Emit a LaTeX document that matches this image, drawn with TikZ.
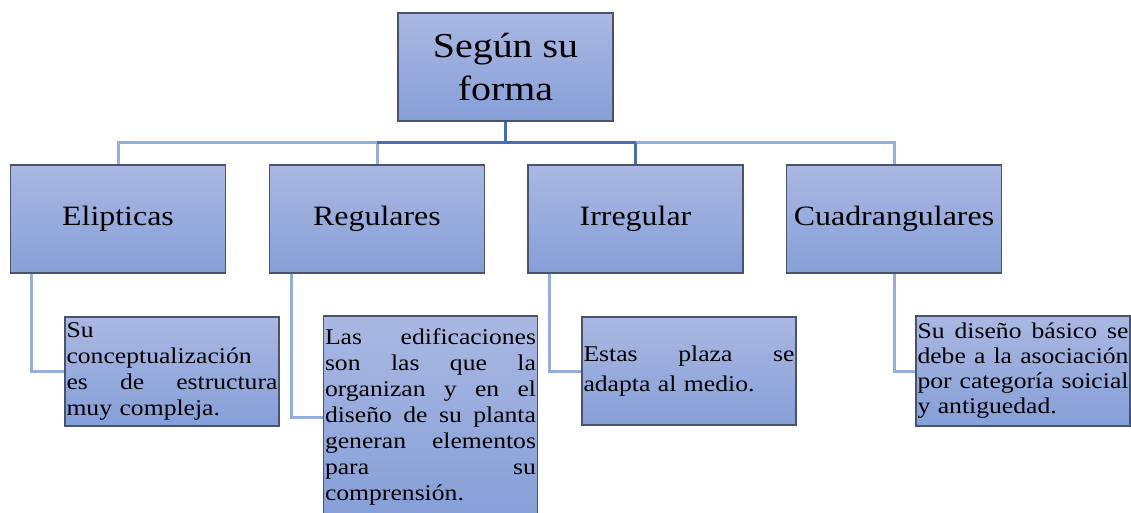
\documentclass[tikz,border=0pt]{standalone}
\usepackage{fontspec}
\setmainfont{Liberation Serif}[FakeStretch=1.14]
\definecolor{boxtop}{RGB}{170,184,226}
\definecolor{boxbot}{RGB}{134,159,216}
\definecolor{boxline}{RGB}{72,84,108}
\definecolor{connlight}{RGB}{150,175,218}
\definecolor{conndark}{RGB}{72,110,176}
\newcommand\jline[1]{\leavevmode\hbox to 211pt{#1}}
\newcommand\lline[1]{\leavevmode\hbox to 211pt{#1\hfil}}
\newcommand\gap{\hfill\ }
\tikzset{
  shbox/.style={draw=boxline, line width=1.1pt, top color=boxtop, bottom color=boxbot,
    rectangle, inner sep=0pt},
  rootbox/.style={shbox, minimum width=215pt, minimum height=108pt, align=center,
    font=\fontsize{35}{43}\selectfont},
  catbox/.style={shbox, minimum width=215pt, minimum height=108pt,
    font=\fontsize{28}{32}\selectfont},
  leafbox/.style={shbox, minimum width=214pt, text width=211pt, align=left,
    font=\fontsize{22.5}{26}\selectfont},
  conn/.style={draw=connlight, line width=3pt},
  conndk/.style={draw=conndark, line width=3pt},
}
\begin{document}
\begin{tikzpicture}[x=1pt,y=-1pt]
\clip (0,0) rectangle (1131,513);
\fill[white] (0,0) rectangle (1131,513);
\coordinate (bus) at (0,143);
\node[rootbox] (root) at (505.5,67) {Según su\\forma};
\node[catbox] (elip) at (118,219) {Elipticas};
\node[catbox] (reg) at (377,219) {Regulares};
\node[catbox] (irr) at (635.5,219) {Irregular};
\node[catbox] (cuad) at (894,219) {Cuadrangulares};
\draw[conn] (elip.north) -- (elip.north |- bus) -- (cuad.north |- bus) -- (cuad.north);
\draw[conn] (reg.north) -- (reg.north |- bus);
\draw[conndk] (irr.north) -- (irr.north |- bus);
\draw[conndk] (reg.north |- bus) -- (irr.north |- bus);
\draw[conndk] (root.south) -- (root.south |- bus);
% redraw boxes over connector ends
\node[rootbox] at (root) {Según su\\forma};
\node[catbox] at (elip) {Elipticas};
\node[catbox] at (reg) {Regulares};
\node[catbox] at (irr) {Irregular};
\node[catbox] at (cuad) {Cuadrangulares};
% leaves
\node[leafbox, minimum height=109pt] (le) at (172,371.5)
  {\lline{Su}\\\lline{conceptualización}\\\jline{es\gap de\gap estructura}\\\lline{muy compleja.}};
\node[leafbox, minimum height=202pt] (lr) at (430.5,417)
  {\jline{Las\gap edificaciones}\\\jline{son\gap las\gap que\gap la}\\\jline{organizan\gap y\gap en\gap el}\\\jline{diseño\gap de\gap su\gap planta}\\\jline{generan\gap elementos}\\\jline{para\gap su}\\\lline{comprensión.}};
\node[leafbox, minimum height=108pt, font=\fontsize{22.5}{30}\selectfont] (li) at (689,371)
  {\jline{Estas\gap plaza\gap se}\\\lline{adapta al medio.}};
\node[leafbox, minimum height=110pt, font=\fontsize{22.5}{25}\selectfont] (lc) at (1023,371)
  {\jline{Su\gap diseño\gap básico\gap se}\\\jline{debe\gap a\gap la\gap asociación}\\\jline{por\gap categoría\gap soicial}\\\lline{y antiguedad.}};
\draw[conn] ([xshift=22pt]elip.south west) |- (le.west);
\draw[conn] ([xshift=23pt]reg.south west) |- (lr.west);
\draw[conn] ([xshift=22pt]irr.south west) |- (li.west);
\draw[conn] (cuad.south) |- (lc.west);
\end{tikzpicture}
\end{document}
